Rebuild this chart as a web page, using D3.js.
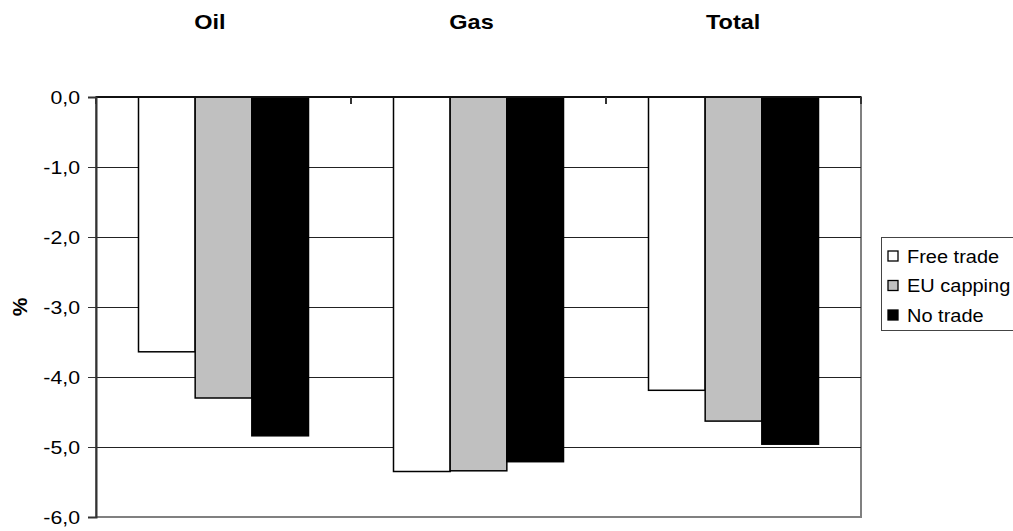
<!DOCTYPE html>
<html>
<head>
<meta charset="utf-8">
<script src="https://cdn.jsdelivr.net/npm/d3@7"></script>
<style>
  html, body { margin: 0; padding: 0; background: #fff; overflow: hidden; }
  svg { display: block; font-family: Arial, "Liberation Sans", sans-serif; }
</style>
</head>
<body>
<svg id="chart" width="1013" height="531"></svg>
<script>
// Change in energy use by scenario (%)
const categories = ["Oil", "Gas", "Total"];
const series = ["Free trade", "EU capping", "No trade"];
const freeTrade = [-3.64, -5.35, -4.19];
const euCapping = [-4.30, -5.34, -4.63];
const noTrade   = [-4.84, -5.21, -4.96];
const yTicks = [0, -1, -2, -3, -4, -5, -6];
const yLabel = "%";

const seriesValues = [freeTrade, euCapping, noTrade];
const fills = ["#ffffff", "#c0c0c0", "#000000"];
const stretch = 1.12; // horizontal stretch applied to all text

const svg = d3.select("#chart");
const plot = { left: 96, right: 861, top: 97, bottom: 517 };

const y = d3.scaleLinear().domain([0, -6]).range([plot.top, plot.bottom]);
const x0 = d3.scaleBand().domain(categories).range([plot.left, plot.right]);
// three bars per group with a 150% gap between groups
const gapRatio = 1.5;
const groupW = x0.bandwidth() * 3 / (3 + gapRatio);
const x1 = d3.scaleBand().domain(series)
  .range([(x0.bandwidth() - groupW) / 2, (x0.bandwidth() + groupW) / 2]);
// category headers above the plot
const xHead = d3.scaleBand().domain(categories).range([79, 864]);

const fmt = v => d3.format(".1f")(v).replace(".", ",").replace("−", "-");

// plot area border
svg.append("rect")
  .attr("x", plot.left).attr("y", plot.top)
  .attr("width", plot.right - plot.left).attr("height", plot.bottom - plot.top)
  .attr("fill", "none").attr("stroke", "#808080").attr("stroke-width", 2);

// horizontal gridlines
svg.append("g").selectAll("line")
  .data(yTicks.filter(t => t !== 0 && t !== -6))
  .join("line")
  .attr("x1", plot.left).attr("x2", plot.right)
  .attr("y1", d => Math.round(y(d)) + 0.5).attr("y2", d => Math.round(y(d)) + 0.5)
  .attr("stroke", "#222").attr("stroke-width", 1);

// bars
const groups = svg.append("g").selectAll("g")
  .data(categories)
  .join("g")
  .attr("transform", d => `translate(${x0(d)},0)`);

groups.selectAll("rect")
  .data((c, ci) => series.map((s, si) => ({ s, si, v: seriesValues[si][ci] })))
  .join("rect")
  .attr("x", d => x1(d.s))
  .attr("y", y(0))
  .attr("width", x1.bandwidth())
  .attr("height", d => y(d.v) - y(0))
  .attr("fill", d => fills[d.si])
  .attr("stroke", "#000")
  .attr("stroke-width", 1.5);

// x axis line at zero with inward category ticks
const xa = svg.append("g").attr("transform", `translate(0,${y(0)})`);
xa.append("line")
  .attr("x1", plot.left).attr("x2", plot.right)
  .attr("y1", 0).attr("y2", 0)
  .attr("stroke", "#111").attr("stroke-width", 2);
xa.selectAll("line.tick")
  .data(d3.range(categories.length + 1).map(i => plot.left + i * x0.step()))
  .join("line").attr("class", "tick")
  .attr("x1", d => d).attr("x2", d => d)
  .attr("y1", 0).attr("y2", 7)
  .attr("stroke", "#333").attr("stroke-width", 2);

// y axis
const yAxis = d3.axisLeft(y).tickValues(yTicks).tickSize(8).tickFormat(fmt);
const ya = svg.append("g").attr("transform", `translate(${plot.left},0)`).call(yAxis);
ya.select(".domain").attr("stroke", "#333").attr("stroke-width", 2);
ya.selectAll(".tick line").attr("stroke", "#333").attr("stroke-width", 1);
ya.selectAll(".tick text")
  .attr("x", 0).attr("dy", "0.35em")
  .attr("transform", `translate(-16,0) scale(${stretch},1)`)
  .attr("font-size", 19).attr("fill", "#000")
  .attr("font-family", "Arial, 'Liberation Sans', sans-serif");

// y axis title
svg.append("text")
  .attr("transform", "translate(27,307) rotate(-90)")
  .attr("text-anchor", "middle")
  .attr("font-size", 21).attr("font-weight", "bold")
  .text(yLabel);

// category headers
svg.append("g").selectAll("text")
  .data(categories)
  .join("text")
  .attr("transform", d => `translate(${xHead(d) + xHead.bandwidth() / 2},29) scale(${stretch},1)`)
  .attr("text-anchor", "middle")
  .attr("font-size", 21).attr("font-weight", "bold")
  .text(d => d);

// legend
const lg = svg.append("g").attr("transform", "translate(881,237)");
lg.append("rect")
  .attr("x", 0.5).attr("y", 0.5).attr("width", 200).attr("height", 93)
  .attr("fill", "#fff").attr("stroke", "#444").attr("stroke-width", 1);
const rowY = d3.scalePoint().domain(series).range([19, 78]);
const items = lg.selectAll("g.item").data(series).join("g")
  .attr("class", "item")
  .attr("transform", d => `translate(0,${rowY(d)})`);
items.append("rect")
  .attr("x", 7).attr("y", -5).attr("width", 10).attr("height", 10)
  .attr("fill", (d, i) => fills[i]).attr("stroke", "#000").attr("stroke-width", 1.3);
items.append("text")
  .attr("transform", "translate(26,0) scale(1.08,1)")
  .attr("dy", "0.36em")
  .attr("font-size", 18.5)
  .text(d => d);
</script>
</body>
</html>
